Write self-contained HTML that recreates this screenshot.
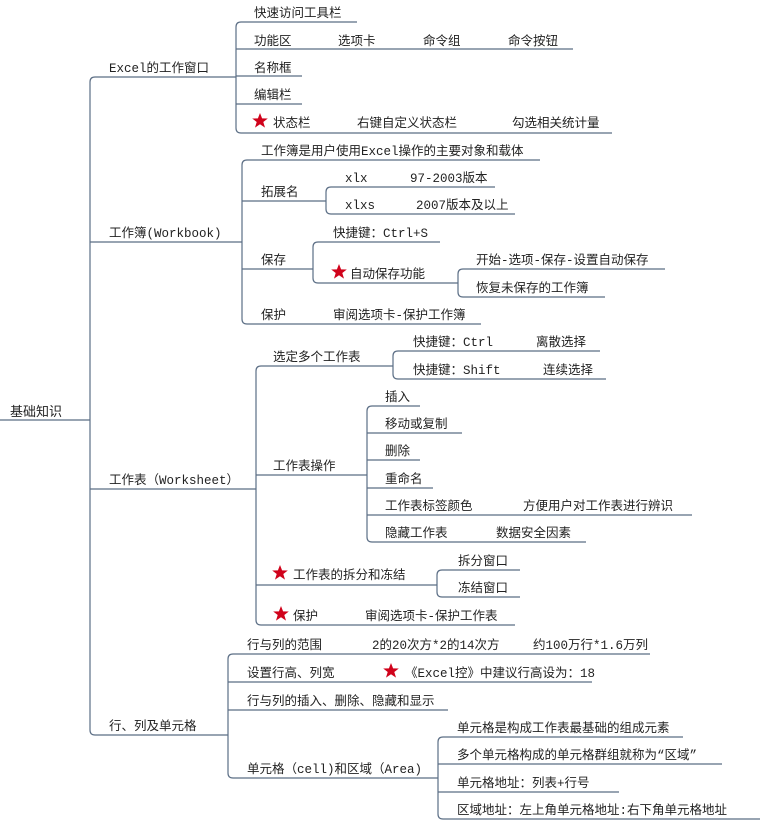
<!DOCTYPE html>
<html><head><meta charset="utf-8"><style>
html,body{margin:0;padding:0;background:#fff;width:762px;height:820px;overflow:hidden}
svg text{font-family:"Liberation Mono","Noto Sans CJK SC",monospace;font-size:12.5px;fill:#222}
</style></head><body>
<svg width="762" height="820" viewBox="0 0 762 820" xmlns="http://www.w3.org/2000/svg">
<defs><polygon id="st" points="0,-8 2.1,-2.6 7.8,-2.5 3.3,1 5,6.6 0,3.3 -5,6.6 -3.3,1 -7.8,-2.5 -2.1,-2.6" fill="#d0021b"/></defs>
<g fill="none" stroke="#5b6e85" stroke-width="1.2">
<path d="M0,420 H90"/>
<path d="M236,77 H95 Q90,77 90,82 V730 Q90,735 95,735 H228"/>
<path d="M90,242 H242 M90,489 H256"/>
<path d="M357,22 H241 Q236,22 236,27 V128 Q236,133 241,133 H612"/>
<path d="M236,49 H573 M236,76 H302 M236,104 H302"/>
<path d="M540,160 H247 Q242,160 242,165 V319 Q242,324 247,324 H481"/>
<path d="M242,201 H326 M242,269 H313"/>
<path d="M495,187 H331 Q326,187 326,192 V209 Q326,214 331,214 H515"/>
<path d="M440,242 H318 Q313,242 313,247 V278 Q313,283 318,283 H458"/>
<path d="M665,269 H463 Q458,269 458,274 V292 Q458,297 463,297 H605"/>
<path d="M393,366 H261 Q256,366 256,371 V620 Q256,625 261,625 H515"/>
<path d="M256,475 H367 M256,585 H437"/>
<path d="M600,351 H398 Q393,351 393,356 V374 Q393,379 398,379 H606"/>
<path d="M420,406 H372 Q367,406 367,411 V537 Q367,542 372,542 H586"/>
<path d="M367,433 H462 M367,460 H420 M367,488 H433 M367,515 H692"/>
<path d="M520,570 H442 Q437,570 437,575 V592 Q437,597 442,597 H520"/>
<path d="M650,654 H233 Q228,654 228,659 V773 Q228,778 233,778 H438"/>
<path d="M228,682 H592 M228,710 H448"/>
<path d="M683,737 H443 Q438,737 438,742 V814 Q438,819 443,819 H760"/>
<path d="M438,764 H722 M438,792 H619"/>
</g>
<use href="#st" x="260" y="121"/>
<use href="#st" x="339" y="272"/>
<use href="#st" x="280" y="573"/>
<use href="#st" x="281" y="614"/>
<use href="#st" x="391" y="671"/>
<text x="10" y="416" style="font-size:13px">基础知识</text>
<text x="109" y="72">Excel的工作窗口</text>
<text x="254" y="17">快速访问工具栏</text>
<text x="254" y="45">功能区</text><text x="338" y="45">选项卡</text><text x="423" y="45">命令组</text><text x="508" y="45">命令按钮</text>
<text x="254" y="72">名称框</text>
<text x="254" y="99">编辑栏</text>
<text x="273" y="127">状态栏</text><text x="357" y="127">右键自定义状态栏</text><text x="512" y="127">勾选相关统计量</text>
<text x="109" y="237">工作簿(Workbook)</text>
<text x="261" y="155">工作簿是用户使用Excel操作的主要对象和载体</text>
<text x="261" y="196">拓展名</text>
<text x="345" y="182">xlx</text><text x="410" y="182">97-2003版本</text>
<text x="345" y="209">xlxs</text><text x="416" y="209">2007版本及以上</text>
<text x="261" y="264">保存</text>
<text x="333" y="237">快捷键：Ctrl+S</text>
<text x="350" y="278">自动保存功能</text>
<text x="476" y="264">开始-选项-保存-设置自动保存</text>
<text x="476" y="292">恢复未保存的工作簿</text>
<text x="261" y="319">保护</text><text x="333" y="319">审阅选项卡-保护工作簿</text>
<text x="109" y="484">工作表（Worksheet）</text>
<text x="273" y="361">选定多个工作表</text>
<text x="413" y="346">快捷键：Ctrl</text><text x="536" y="346">离散选择</text>
<text x="413" y="374">快捷键：Shift</text><text x="543" y="374">连续选择</text>
<text x="273" y="470">工作表操作</text>
<text x="385" y="401">插入</text>
<text x="385" y="428">移动或复制</text>
<text x="385" y="455">删除</text>
<text x="385" y="483">重命名</text>
<text x="385" y="510">工作表标签颜色</text><text x="523" y="510">方便用户对工作表进行辨识</text>
<text x="385" y="537">隐藏工作表</text><text x="496" y="537">数据安全因素</text>
<text x="293" y="579">工作表的拆分和冻结</text>
<text x="458" y="565">拆分窗口</text>
<text x="458" y="592">冻结窗口</text>
<text x="293" y="620">保护</text><text x="365" y="620">审阅选项卡-保护工作表</text>
<text x="109" y="730">行、列及单元格</text>
<text x="247" y="649">行与列的范围</text><text x="372" y="649">2的20次方*2的14次方</text><text x="533" y="649">约100万行*1.6万列</text>
<text x="247" y="677">设置行高、列宽</text><text x="405" y="677">《Excel控》中建议行高设为：18</text>
<text x="247" y="705">行与列的插入、删除、隐藏和显示</text>
<text x="247" y="773">单元格（cell)和区域（Area)</text>
<text x="457" y="732">单元格是构成工作表最基础的组成元素</text>
<text x="457" y="759">多个单元格构成的单元格群组就称为“区域”</text>
<text x="457" y="787">单元格地址：列表+行号</text>
<text x="457" y="814">区域地址：左上角单元格地址:右下角单元格地址</text>
</svg>
</body></html>
